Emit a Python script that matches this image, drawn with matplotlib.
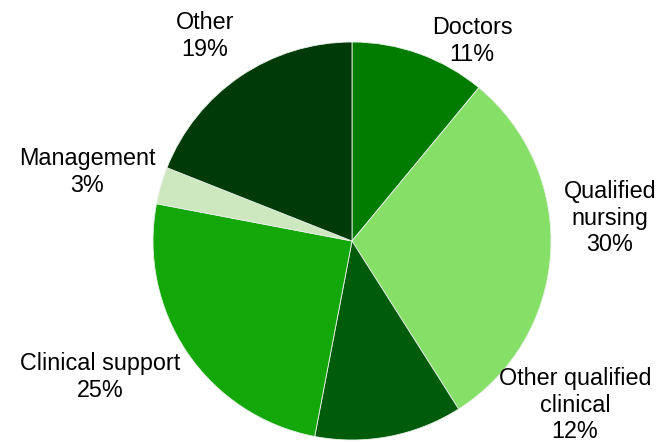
import matplotlib
matplotlib.use("Agg")
import matplotlib.pyplot as plt

categories = ["Doctors", "Qualified\nnursing", "Other qualified\nclinical",
              "Clinical support", "Management", "Other"]
values = [11, 30, 12, 25, 3, 19]
colors = ["#017c01", "#86e068", "#005c0b", "#14a70a", "#cde8bf", "#003a09"]

# label anchor positions (pixel layout, y from top)
label_pos = [(472, 41), (610, 218), (575, 405), (100, 377), (87, 172), (205, 36)]

W, H = 657, 442
fig = plt.figure(figsize=(W / 100, H / 100), dpi=100)
ax = fig.add_axes([0, 0, 1, 1])

cx, cy, r = 352, H - 241, 199
ax.pie(values, colors=colors, startangle=90, counterclock=False,
       center=(cx, cy), radius=r, frame=True,
       wedgeprops=dict(edgecolor="#e8f0e8", linewidth=0.6))
ax.set_xlim(0, W)
ax.set_ylim(0, H)
ax.set_aspect("equal")
ax.axis("off")

for cat, v, (px, py) in zip(categories, values, label_pos):
    ax.text(px, H - py, f"{cat}\n{v}%", ha="center", va="center",
            fontsize=16.8, family=["Liberation Sans", "DejaVu Sans"],
            linespacing=1.2, color="black")

fig.savefig("out.png", dpi=100)
